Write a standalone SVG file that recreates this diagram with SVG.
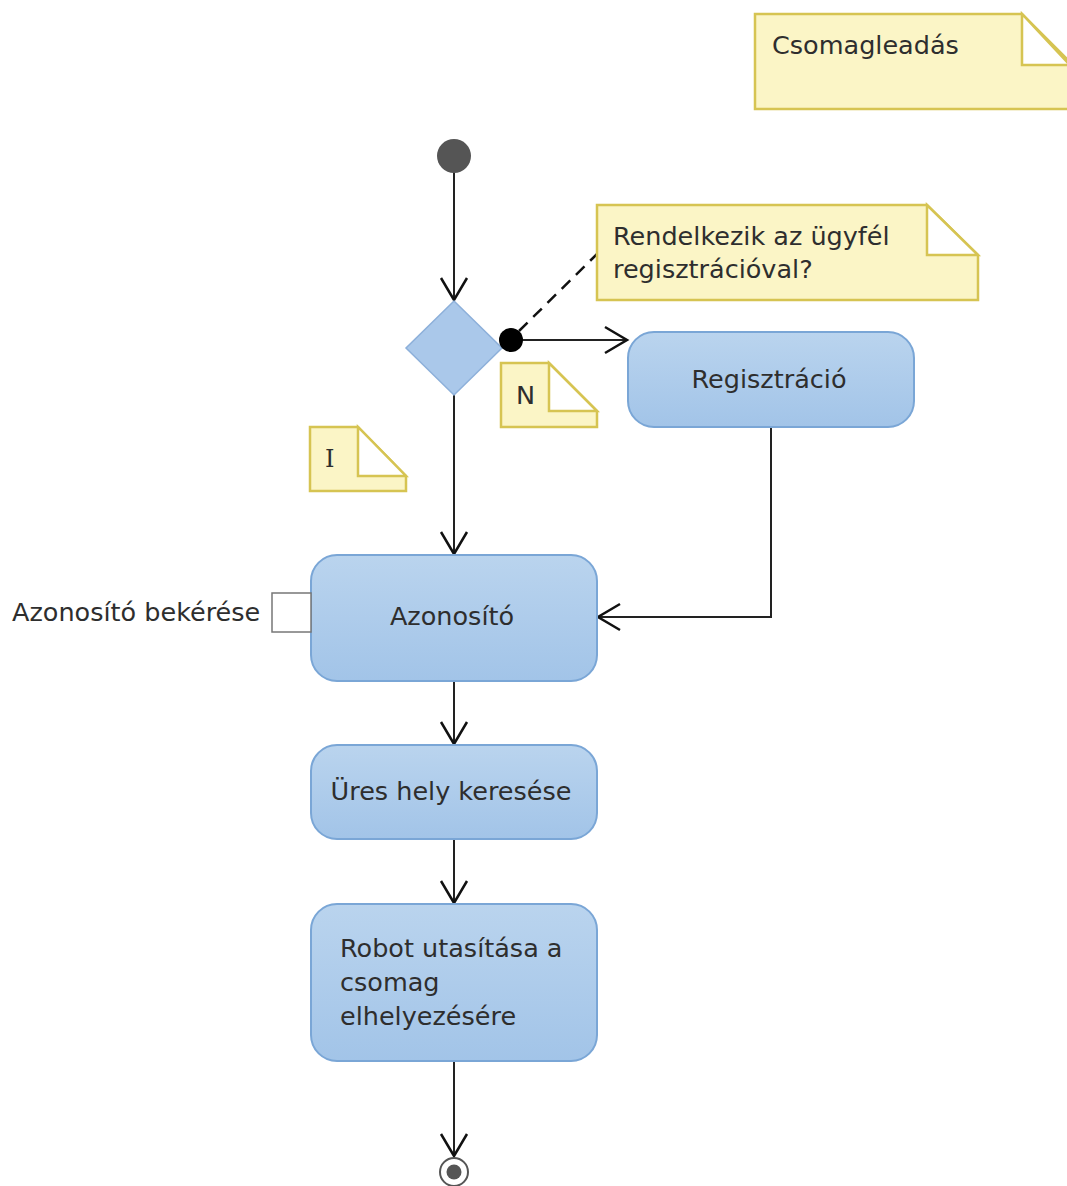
<svg xmlns="http://www.w3.org/2000/svg" width="1067" height="1186" viewBox="0 0 1067 1186">
<style>
  text { font-family: "DejaVu Sans", Verdana, sans-serif; font-size: 25.5px; fill: #2e2e2e; }
  .note { fill: #fbf5c6; stroke: #d6c452; stroke-width: 2.5; }
  .fold { fill: #ffffff; stroke: #d6c452; stroke-width: 2.5; stroke-linejoin: miter; }
  .act { fill: url(#actGrad); stroke: #7aa6d6; stroke-width: 2; }
  .edge { fill: none; stroke: #222; stroke-width: 2; }
</style>
<defs>
  <linearGradient id="actGrad" x1="0" y1="0" x2="0" y2="1">
    <stop offset="0" stop-color="#bad4ee"/>
    <stop offset="1" stop-color="#a2c4e8"/>
  </linearGradient>
  <marker id="arr" markerUnits="userSpaceOnUse" markerWidth="30" markerHeight="30" viewBox="-24 -15 26 30" refX="0" refY="0" orient="auto">
    <path d="M-22,-13 L0,0 L-22,13" fill="none" stroke="#111" stroke-width="2.5"/>
  </marker>
</defs>

<g id="note-title">
  <path class="note" d="M755,14 H1022 L1070,62 V109 H755 Z"/>
  <path class="fold" d="M1022,14 V65 H1070 Z"/>
  <text x="772" y="54">Csomagleadás</text>
</g>

<g id="connectors">
  <line class="edge" x1="454" y1="172" x2="454" y2="300" marker-end="url(#arr)"/>
  <line class="edge" x1="511" y1="340" x2="627" y2="340" marker-end="url(#arr)"/>
  <line x1="519" y1="331" x2="597" y2="254" stroke="#111" stroke-width="2.5" stroke-dasharray="12,8"/>
  <line class="edge" x1="454" y1="395" x2="454" y2="554" marker-end="url(#arr)"/>
  <polyline class="edge" points="771,427 771,617 598,617" marker-end="url(#arr)"/>
  <line class="edge" x1="454" y1="681" x2="454" y2="744" marker-end="url(#arr)"/>
  <line class="edge" x1="454" y1="839" x2="454" y2="903" marker-end="url(#arr)"/>
  <line class="edge" x1="454" y1="1061" x2="454" y2="1156" marker-end="url(#arr)"/>
</g>

<g id="start">
  <circle cx="454" cy="156" r="17" fill="#555"/>
</g>

<g id="decision">
  <path d="M454,301 L502,348 L454,395 L406,348 Z" fill="#aac8ea" stroke="#8db0da" stroke-width="1.5"/>
  <circle cx="511" cy="340" r="12" fill="#000"/>
</g>

<g id="note-question">
  <path class="note" d="M597,205 H927 L978,255 V300 H597 Z"/>
  <path class="fold" d="M927,205 V255 H978 Z"/>
  <text x="613" y="245">Rendelkezik az ügyfél</text>
  <text x="613" y="278">regisztrációval?</text>
</g>

<g id="note-n">
  <path class="note" d="M501,363 H549 L597,411 V427 H501 Z"/>
  <path class="fold" d="M549,363 V411 H597 Z"/>
  <text x="516" y="404">N</text>
</g>

<g id="note-i">
  <path class="note" d="M310,427 H358 L406,476 V491 H310 Z"/>
  <path class="fold" d="M358,427 V476 H406 Z"/>
  <text x="325" y="467" style="font-family: 'DejaVu Serif', serif; font-size: 24px;">I</text>
</g>

<g id="registration">
  <rect class="act" x="628" y="332" width="286" height="95" rx="26"/>
  <text x="769" y="388" text-anchor="middle">Regisztráció</text>
</g>

<g id="identifier">
  <rect class="act" x="311" y="555" width="286" height="126" rx="26"/>
  <text x="452" y="625" text-anchor="middle">Azonosító</text>
  <rect x="272" y="593" width="39" height="39" fill="#fff" stroke="#777" stroke-width="1.5"/>
  <text x="12" y="621">Azonosító bekérése</text>
</g>

<g id="search">
  <rect class="act" x="311" y="745" width="286" height="94" rx="26"/>
  <text x="451" y="800" text-anchor="middle">Üres hely keresése</text>
</g>

<g id="robot">
  <rect class="act" x="311" y="904" width="286" height="157" rx="26"/>
  <text x="340" y="957">Robot utasítása a</text>
  <text x="340" y="991">csomag</text>
  <text x="340" y="1025">elhelyezésére</text>
</g>

<g id="end">
  <circle cx="454" cy="1172" r="14" fill="#fff" stroke="#555" stroke-width="2"/>
  <circle cx="454" cy="1172" r="7.5" fill="#555"/>
</g>
</svg>
